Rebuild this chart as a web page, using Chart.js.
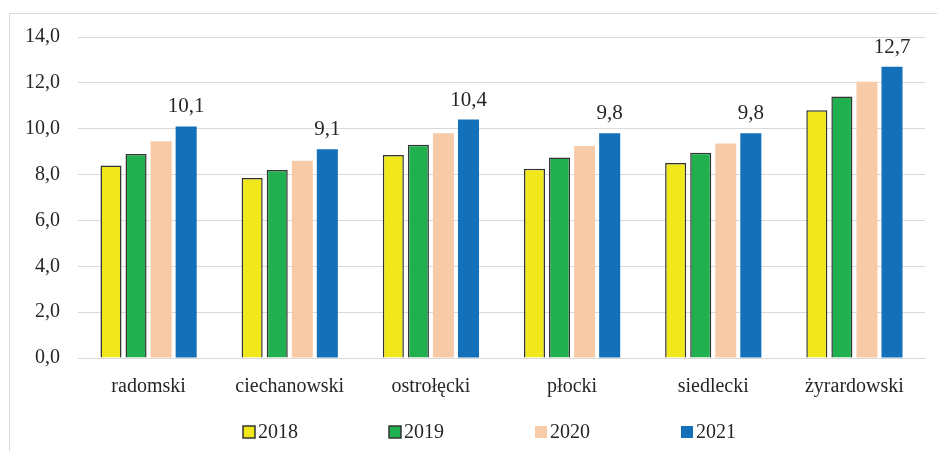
<!DOCTYPE html>
<html lang="pl">
<head>
<meta charset="utf-8"/>
<title>Powiaty 2018-2021</title>
<script src="https://cdn.jsdelivr.net/npm/chart.js@4.4.1/dist/chart.umd.min.js"></script>
<style>
    html, body { margin: 0; padding: 0; background: #fff; }
    .wrap {
        position: relative;
        width: 937px;
        height: 451px;
    }
    .frame {
        position: absolute;
        left: 9px;
        top: 13px;
        width: 940px;
        height: 450px;
        border-left: 1px solid #d9d9d9;
        border-top: 1px solid #d9d9d9;
    }
    canvas { position: absolute; left: 0; top: 0; }
</style>
</head>
<body>
<div class="wrap">
    <div class="frame"></div>
    <canvas id="chart1" width="937" height="451"></canvas>
</div>
<script>
    var categories = ['radomski', 'ciechanowski', 'ostrołęcki', 'płocki', 'siedlecki', 'żyrardowski'];
    var years = ['2018', '2019', '2020', '2021'];
    var v2018 = [8.4, 7.85, 8.85, 8.25, 8.5, 10.8];
    var v2019 = [8.9, 8.2, 9.3, 8.75, 8.95, 11.4];
    var v2020 = [9.45, 8.6, 9.8, 9.25, 9.35, 12.05];
    var v2021 = [10.1, 9.1, 10.4, 9.8, 9.8, 12.7];
    var yTicks = [0, 2, 4, 6, 8, 10, 12, 14];

    var fmt = function (v) { return v.toFixed(1).replace('.', ','); };
    var serif = "'Liberation Serif', 'Times New Roman', serif";
    var textColor = '#262626';

    // value labels only over the 2021 bars
    var valueLabels = {
        id: 'valueLabels',
        afterDatasetsDraw: function (chart) {
            var ctx = chart.ctx;
            var meta = chart.getDatasetMeta(3);
            ctx.save();
            ctx.font = '21px ' + serif;
            ctx.fillStyle = textColor;
            ctx.textAlign = 'center';
            ctx.textBaseline = 'alphabetic';
            meta.data.forEach(function (bar, i) {
                ctx.fillText(fmt(v2021[i]), bar.x, bar.y - 14);
            });
            ctx.restore();
        }
    };

    // legend drawn by hand so the wide spacing doesn't eat plot height
    var bottomLegend = {
        id: 'bottomLegend',
        afterDraw: function (chart) {
            var ctx = chart.ctx;
            var x0 = 243, step = 146, y = 432, box = 12;
            ctx.save();
            ctx.font = '20px ' + serif;
            ctx.textBaseline = 'middle';
            ctx.textAlign = 'left';
            chart.data.datasets.forEach(function (ds, i) {
                var x = x0 + i * step;
                ctx.fillStyle = ds.backgroundColor;
                ctx.fillRect(x, y - box / 2, box, box);
                if (ds.borderWidth) {
                    ctx.strokeStyle = ds.borderColor;
                    ctx.lineWidth = 1.5;
                    ctx.strokeRect(x, y - box / 2, box, box);
                }
                ctx.fillStyle = textColor;
                ctx.fillText(ds.label, x + box + 3, y + 1);
            });
            ctx.restore();
        }
    };

    var ch1 = document.getElementById('chart1').getContext('2d');
    var chart1 = new Chart(ch1, {
        type: 'bar',
        data: {
            labels: categories,
            datasets: [
                {
                    label: years[0],
                    data: v2018,
                    backgroundColor: '#f0e81a',
                    borderColor: '#333333',
                    borderWidth: 1.5
                },
                {
                    label: years[1],
                    data: v2019,
                    backgroundColor: '#21b04f',
                    borderColor: '#333333',
                    borderWidth: 1.5
                },
                {
                    label: years[2],
                    data: v2020,
                    backgroundColor: '#f8cba8',
                    borderWidth: 0
                },
                {
                    label: years[3],
                    data: v2021,
                    backgroundColor: '#1470b8',
                    borderWidth: 0
                }
            ]
        },
        options: {
            responsive: false,
            animation: false,
            categoryPercentage: 0.71,
            barPercentage: 0.84,
            layout: {
                padding: { left: 7, right: 12, top: 37, bottom: 43 }
            },
            plugins: {
                tooltip: { enabled: false },
                legend: { display: false }
            },
            scales: {
                x: {
                    grid: { display: false },
                    border: { color: '#d9d9d9', width: 1 },
                    ticks: {
                        font: { family: serif, size: 20 },
                        color: textColor,
                        padding: 9
                    }
                },
                y: {
                    min: 0,
                    max: 14,
                    afterBuildTicks: function (axis) {
                        axis.ticks = yTicks.map(function (v) { return { value: v }; });
                    },
                    grid: { color: '#d9d9d9', lineWidth: 1, drawTicks: false },
                    border: { display: false },
                    ticks: {
                        font: { family: serif, size: 20 },
                        color: textColor,
                        padding: 18,
                        callback: function (v) { return fmt(v); }
                    }
                }
            }
        },
        plugins: [valueLabels, bottomLegend]
    });
</script>
</body>
</html>
